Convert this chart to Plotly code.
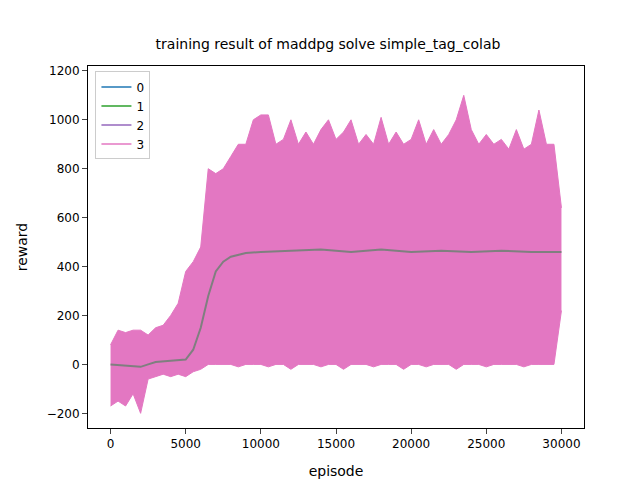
import plotly.graph_objects as go

episodes = list(range(0, 30001, 500))
upper = [80, 140, 130, 140, 140, 120,
         150, 160, 200, 250, 380, 420, 480,
         800, 780, 800, 850, 900, 900, 1000, 1020, 1020, 900, 920, 1000, 900, 950, 900, 960,
         1000, 920, 950, 1000, 900, 940, 900, 1010, 900, 950, 900, 920, 1000, 900, 960, 900,
         940, 1000, 1100, 960, 900, 940, 900, 920, 880, 960, 880, 900, 1040, 900, 900, 640]
lower = [-170, -150, -170, -120, -200, -60,
         -50, -40, -50, -40, -50, -30, -20,
         0, 0, 0, 0, -10, 0, 0, 0, -10, 0, 0, -20, 0, 0, 0, -10,
         0, 0, -20, 0, 0, 0, -10, 0, 0, 0, -20, 0, 0, -10, 0, 0,
         0, -20, 0, 0, 0, -10, 0, 0, 0, 0, -10, 0, 0, 0, 0, 220]
mean_ep = [0, 1000, 2000, 2500, 3000, 4000, 5000, 5500, 6000, 6500, 7000, 7500, 8000, 9000,
           10000, 12000, 14000, 16000, 18000, 20000, 22000, 24000, 26000, 28000, 30000]
mean_val = [0, -5, -10, 0, 10, 15, 20, 60, 150, 280, 380, 420, 440, 455,
            460, 465, 470, 460, 470, 460, 465, 460, 465, 460, 460]

names = ["0", "1", "2", "3"]
colors = ["#1f77b4", "#2ca02c", "#9467bd", "#e377c2"]

fig = go.Figure()
fig.add_trace(go.Scatter(x=episodes, y=lower, mode="lines", line=dict(color=colors[3], width=1),
                         showlegend=False, hoverinfo="skip"))
fig.add_trace(go.Scatter(x=episodes, y=upper, mode="lines", fill="tonexty", fillcolor=colors[3],
                         line=dict(color=colors[3], width=1), showlegend=False))
fig.add_trace(go.Scatter(x=mean_ep, y=mean_val, mode="lines", line=dict(color="#7f7f7f", width=2),
                         showlegend=False))
for n, c in zip(names, colors):
    fig.add_trace(go.Scatter(x=[None], y=[None], mode="lines", name=n, line=dict(color=c, width=1.5)))

axis = dict(showline=True, linecolor="black", mirror=True, ticks="outside", showgrid=False,
            zeroline=False, tickfont=dict(size=12, color="black"), title_font=dict(size=12))
fig.update_layout(
    width=640, height=480, plot_bgcolor="white", paper_bgcolor="white",
    font=dict(family="DejaVu Sans", size=12, color="black"),
    margin=dict(l=80, r=64, t=58, b=58),
    title=dict(text="training result of maddpg solve simple_tag_colab", x=0.5, xanchor="center",
               y=0.935, font=dict(size=14)),
    xaxis=dict(axis, title="episode", range=[-1500, 31500], tickvals=list(range(0, 30001, 5000)),
               tickformat="d"),
    yaxis=dict(axis, title="reward", range=[-260, 1220], tickvals=list(range(-200, 1201, 200)),
               tickformat="d"),
    legend=dict(x=0.015, y=0.985, xanchor="left", yanchor="top", bordercolor="#cccccc",
                borderwidth=1, bgcolor="white", traceorder="normal"),
)
fig.write_html("out.html")
